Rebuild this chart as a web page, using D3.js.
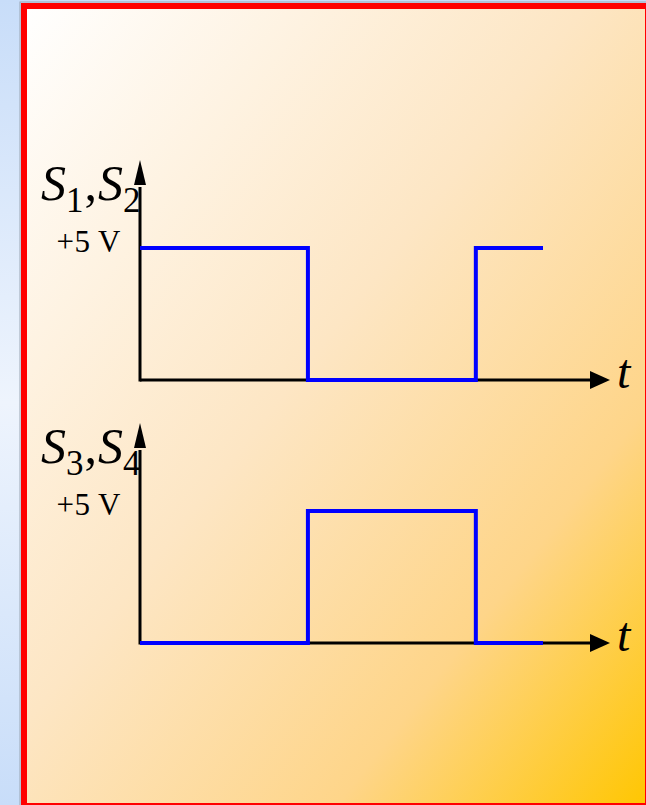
<!DOCTYPE html>
<html lang="en">
<head>
<meta charset="UTF-8">
<title>Switch signals</title>
<script src="https://d3js.org/d3.v7.min.js"></script>
<style>
  html, body { margin: 0; padding: 0; background: #fff; }
  #chart svg { display: block; font-family: "Liberation Serif", "DejaVu Serif", serif; }
</style>
</head>
<body>
<div id="chart"></div>
<script>
// switching instants (one period = 2 units) and signal levels in volts
var times = [0, 1, 2, 2.4];
var s12 = [5, 0, 5, 5];
var s34 = [0, 5, 0, 0];
var seriesNames = [["S", "1", "S", "2"], ["S", "3", "S", "4"]];
var levelLabel = "+5 V";
var axisLabel = "t";

var width = 646, height = 805;

var svg = d3.select("#chart").append("svg")
    .attr("width", width)
    .attr("height", height);

var defs = svg.append("defs");

// light blue slide background on the left
var side = defs.append("linearGradient")
    .attr("id", "side").attr("x1", 0).attr("y1", 0).attr("x2", 0).attr("y2", 1);
side.append("stop").attr("offset", "0%").attr("stop-color", "#c8ddf9");
side.append("stop").attr("offset", "50%").attr("stop-color", "#eef4fd");
side.append("stop").attr("offset", "100%").attr("stop-color", "#c8ddf9");

// white -> gold panel fill
var warm = defs.append("linearGradient")
    .attr("id", "warm").attr("x1", 0).attr("y1", 0).attr("x2", 1).attr("y2", 1);
warm.append("stop").attr("offset", "0%").attr("stop-color", "#ffffff");
warm.append("stop").attr("offset", "45%").attr("stop-color", "#fde6c4");
warm.append("stop").attr("offset", "75%").attr("stop-color", "#fed589");
warm.append("stop").attr("offset", "100%").attr("stop-color", "#ffc600");

svg.append("rect")
    .attr("width", width).attr("height", height)
    .attr("fill", "url(#side)");

svg.append("rect")
    .attr("x", 20).attr("y", 2).attr("width", 640).attr("height", 820)
    .attr("fill", "none").attr("stroke", "#9aa6b4").attr("stroke-width", 1);

svg.append("rect")
    .attr("x", 24).attr("y", 6).attr("width", 624).attr("height", 800)
    .attr("fill", "url(#warm)")
    .attr("stroke", "#ff0000").attr("stroke-width", 6);

var x = d3.scaleLinear().domain([0, 2.4]).range([140, 543]);

function drawPanel(values, names, baseY) {
    var y = d3.scaleLinear().domain([0, 5]).range([baseY, baseY - 132]);
    var g = svg.append("g");
    var x0 = x(0);

    // axes with arrow heads
    g.append("line")
        .attr("x1", x0).attr("y1", y(0)).attr("x2", 592).attr("y2", y(0))
        .attr("stroke", "#000").attr("stroke-width", 3);
    g.append("path")
        .attr("d", "M590," + (y(0) - 9) + "L610," + y(0) + "L590," + (y(0) + 9) + "Z")
        .attr("fill", "#000");
    g.append("line")
        .attr("x1", x0).attr("y1", y(0) + 1.5).attr("x2", x0).attr("y2", y(0) - 193)
        .attr("stroke", "#000").attr("stroke-width", 3);
    g.append("path")
        .attr("d", "M" + (x0 - 6) + "," + (y(0) - 195) + "L" + x0 + "," + (y(0) - 220) +
              "L" + (x0 + 6) + "," + (y(0) - 195) + "Z")
        .attr("fill", "#000");

    // square wave
    var line = d3.line()
        .x(function(d, i) { return x(times[i]); })
        .y(function(d) { return y(d); })
        .curve(d3.curveStepAfter);
    g.append("path")
        .datum(values)
        .attr("d", line)
        .attr("fill", "none")
        .attr("stroke", "#0000ff")
        .attr("stroke-width", 4)
        .attr("stroke-linejoin", "miter");

    // series label
    var lab = g.append("text")
        .attr("x", 41).attr("y", y(0) - 180)
        .attr("font-size", 50)
        .attr("fill", "#000");
    lab.append("tspan").attr("font-style", "italic").text(names[0]);
    lab.append("tspan").attr("font-size", 35).attr("dy", 12).text(names[1]);
    lab.append("tspan").attr("dy", -12).attr("dx", 1).text(",");
    lab.append("tspan").attr("font-style", "italic").attr("dx", 1).text(names[2]);
    lab.append("tspan").attr("font-size", 35).attr("dy", 12).text(names[3]);

    g.append("text")
        .attr("x", 121).attr("y", y(5) + 4)
        .attr("text-anchor", "end")
        .attr("font-size", 31)
        .attr("letter-spacing", 0.5)
        .attr("fill", "#000")
        .text(levelLabel);

    g.append("text")
        .attr("x", 617).attr("y", y(0) + 8)
        .attr("font-size", 48)
        .attr("font-style", "italic")
        .attr("fill", "#000")
        .text(axisLabel);
}

drawPanel(s12, seriesNames[0], 380);
drawPanel(s34, seriesNames[1], 643);
</script>
</body>
</html>
